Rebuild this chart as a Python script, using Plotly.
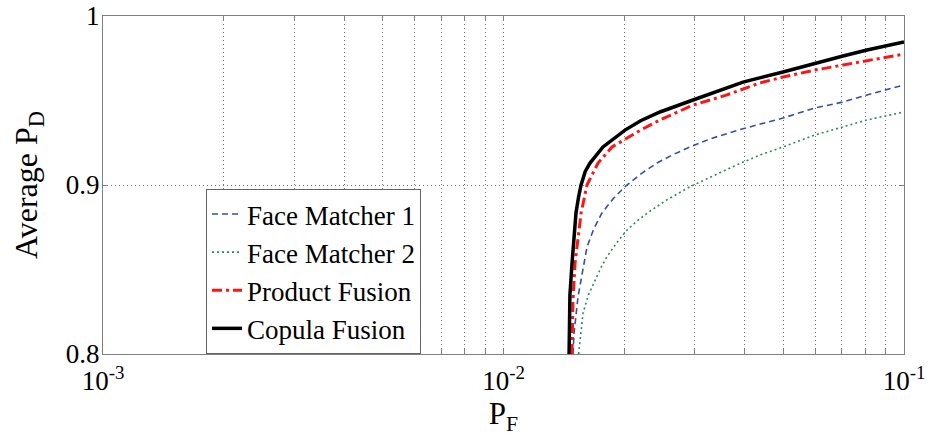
import plotly.graph_objects as go

# ROC-style curves: false alarm probability (P_F) vs. average detection probability (P_D)
series_names = ["Face Matcher 1", "Face Matcher 2", "Product Fusion", "Copula Fusion"]

fm1_pf = [0.01491, 0.01500, 0.01535, 0.01580, 0.01616, 0.01680, 0.01761, 0.01880,
          0.02011, 0.02200, 0.02417, 0.02650, 0.02922, 0.03300, 0.03856, 0.04400,
          0.04987, 0.05995, 0.07042, 0.08084, 0.1]
fm1_pd = [0.800, 0.812, 0.834, 0.850, 0.8633, 0.8740, 0.8834, 0.8920,
          0.8990, 0.9065, 0.9130, 0.9180, 0.9225, 0.9275, 0.9325, 0.9362,
          0.9396, 0.9456, 0.9491, 0.9533, 0.9592]

fm2_pf = [0.01540, 0.01560, 0.01580, 0.01630, 0.01693, 0.01750, 0.01813, 0.01920,
          0.02034, 0.02150, 0.02282, 0.02550, 0.02922, 0.03400, 0.03897, 0.04400,
          0.04987, 0.05995, 0.07042, 0.08084, 0.1]
fm2_pd = [0.800, 0.812, 0.8243, 0.8350, 0.8438, 0.8510, 0.8576, 0.8660,
          0.8734, 0.8785, 0.8833, 0.8910, 0.8990, 0.9065, 0.9128, 0.9180,
          0.9225, 0.9296, 0.9343, 0.9385, 0.9432]

prod_pf = [0.01483, 0.01486, 0.01491, 0.01509, 0.01535, 0.01562, 0.01616, 0.01670,
           0.01722, 0.01866, 0.02034, 0.02200, 0.02459, 0.02973, 0.03614, 0.04369,
           0.04987, 0.05995, 0.07042, 0.08084, 0.1]
prod_pd = [0.800, 0.815, 0.832, 0.8538, 0.8700, 0.8834, 0.9000, 0.9070,
           0.9130, 0.9225, 0.9278, 0.9325, 0.9385, 0.9473, 0.9533, 0.9604,
           0.9639, 0.9680, 0.9710, 0.9734, 0.9775]

cop_pf = [0.01458, 0.01458, 0.01465, 0.01483, 0.01500, 0.01517, 0.01540, 0.01562,
          0.01600, 0.01644, 0.01772, 0.02011, 0.02200, 0.02459, 0.02973, 0.03400,
          0.03963, 0.04987, 0.05995, 0.07042, 0.08084, 0.1]
cop_pd = [0.800, 0.8142, 0.835, 0.8538, 0.8700, 0.8834, 0.8930, 0.9000,
          0.9080, 0.9130, 0.9225, 0.9325, 0.9380, 0.9432, 0.9503, 0.9555,
          0.9609, 0.9669, 0.9722, 0.9763, 0.9799, 0.9846]

x_tick_vals = [m * 10 ** e for e in (-3, -2) for m in range(1, 10)] + [0.1]
x_tick_text = ["10<sup>-3</sup>" if v == 0.001 else
               "10<sup>-2</sup>" if abs(v - 0.01) < 1e-12 else
               "10<sup>-1</sup>" if v == 0.1 else "" for v in x_tick_vals]
y_tick_vals = [0.8, 0.9, 1.0]
y_tick_text = ["0.8", "0.9", "1"]

FONT = "Liberation Serif"
AXIS_GRAY = "rgb(128,128,128)"
GRID = "rgb(115,115,115)"

fig = go.Figure()
fig.add_trace(go.Scatter(x=fm1_pf, y=fm1_pd, mode="lines", name=series_names[0],
                         line=dict(color="rgb(50,80,170)", width=1.6, dash="6px,4px")))
fig.add_trace(go.Scatter(x=fm2_pf, y=fm2_pd, mode="lines", name=series_names[1],
                         line=dict(color="rgb(40,140,90)", width=1.6, dash="2px,3px")))
fig.add_trace(go.Scatter(x=prod_pf, y=prod_pd, mode="lines", name=series_names[2],
                         line=dict(color="rgb(255,20,20)", width=3, dash="10px,4px,3px,4px")))
fig.add_trace(go.Scatter(x=cop_pf, y=cop_pd, mode="lines", name=series_names[3],
                         line=dict(color="black", width=3.5)))

fig.update_layout(
    width=931, height=444,
    margin=dict(l=103, r=27, t=16, b=90),
    paper_bgcolor="white", plot_bgcolor="white",
    font=dict(family=FONT, size=27, color="black"),
    showlegend=True,
    legend=dict(x=0.1286, y=0, xanchor="left", yanchor="bottom",
                bgcolor="white", bordercolor="rgb(100,100,100)", borderwidth=1,
                font=dict(family=FONT, size=27, color="black"),
                tracegroupgap=0, itemwidth=30),
    xaxis=dict(type="log", range=[-3, -1], automargin=False,
               tickmode="array", tickvals=x_tick_vals, ticktext=x_tick_text,
               ticks="inside", ticklen=5, tickcolor=AXIS_GRAY,
               showline=True, linecolor=AXIS_GRAY, linewidth=1, mirror="ticks",
               showgrid=True, gridcolor=GRID, gridwidth=1, griddash="1px,3px",
               zeroline=False, ticklabelstandoff=3,
               tickfont=dict(family=FONT, size=27, color="black"),
               title=dict(text="P<sub>F</sub>", font=dict(family=FONT, size=31),
                          standoff=0)),
    yaxis=dict(range=[0.8, 1.0], automargin=False,
               tickmode="array", tickvals=y_tick_vals, ticktext=y_tick_text,
               ticks="inside", ticklen=5, tickcolor=AXIS_GRAY,
               showline=True, linecolor=AXIS_GRAY, linewidth=1, mirror="ticks",
               showgrid=True, gridcolor=GRID, gridwidth=1, griddash="1px,3px",
               zeroline=False, ticklabelstandoff=-3,
               tickfont=dict(family=FONT, size=27, color="black"),
               title=dict(text="Average P<sub>D</sub>", font=dict(family=FONT, size=32),
                          standoff=18)),
)

fig.write_html("out.html")
